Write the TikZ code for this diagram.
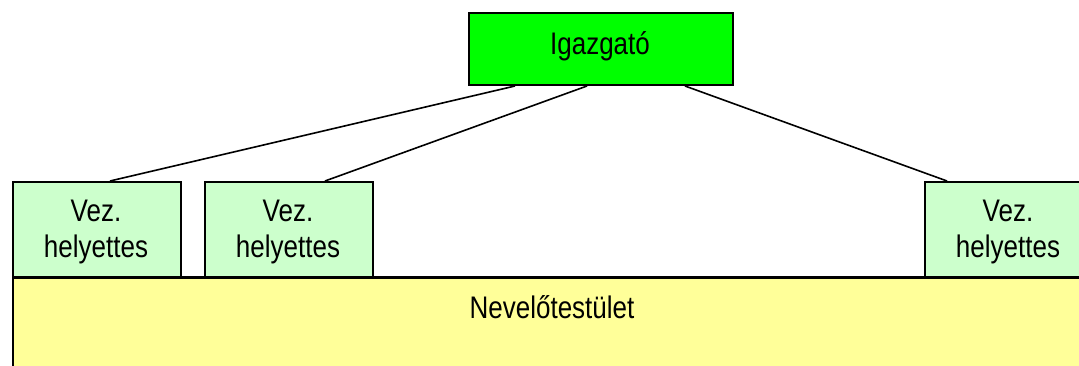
\documentclass[tikz,border=0pt]{standalone}
\usepackage{fontspec}
\usepackage{graphicx}
\setmainfont{Liberation Sans}
\definecolor{topgreen}{HTML}{00FF00}
\definecolor{palegreen}{HTML}{CCFFCC}
\definecolor{paleyellow}{HTML}{FFFF99}
\tikzset{
  boxbase/.style={draw=black, line width=2pt, rectangle, inner sep=0pt, anchor=north west},
  topbox/.style={boxbase, fill=topgreen, minimum width=264pt, minimum height=72pt},
  vezbox/.style={boxbase, fill=palegreen, minimum width=168pt, minimum height=95pt},
  nevbox/.style={boxbase, fill=paleyellow, minimum width=1100pt, minimum height=120pt},
  lbl/.style={inner sep=0pt, font=\fontsize{26}{30}\selectfont},
  conn/.style={draw=black, line width=1.6pt}
}
\newcommand{\stretchtxt}[1]{\scalebox{1}[1.2]{#1}}
\newcommand{\vezlbl}{\stretchtxt{\begin{tabular}{@{}c@{}}Vez.\\helyettes\end{tabular}}}
\begin{document}
\begin{tikzpicture}[x=1pt,y=-1pt]
\useasboundingbox (0,0) rectangle (1079,366);
\clip (0,0) rectangle (1079,366);
\fill[white] (0,0) rectangle (1079,366);
% boxes
\node[nevbox] (nev) at (12,277) {};
\node[vezbox] (v1) at (12,181) {};
\node[vezbox] (v2) at (204,181) {};
\node[vezbox] (v3) at (924,181) {};
\node[topbox] (ig) at (468,12) {};
\draw[black, line width=2pt] (nev.north west) -- (nev.north east);
% labels
\node[lbl] (tig) at (600,46) {\stretchtxt{Igazgató}};
\node[lbl] (t1) at (96,232) {\vezlbl};
\node[lbl] (t2) at (288,232) {\vezlbl};
\node[lbl] (t3) at (1008,232) {\vezlbl};
\node[lbl] (tnev) at (552,307) {\stretchtxt{Nevelőtestület}};
% connectors
\draw[conn] ([xshift=47pt]ig.south west) -- ([xshift=98pt]v1.north west);
\draw[conn] ([xshift=119pt]ig.south west) -- ([xshift=121pt]v2.north west);
\draw[conn] ([xshift=217pt]ig.south west) -- ([xshift=23pt]v3.north west);
\end{tikzpicture}
\end{document}
